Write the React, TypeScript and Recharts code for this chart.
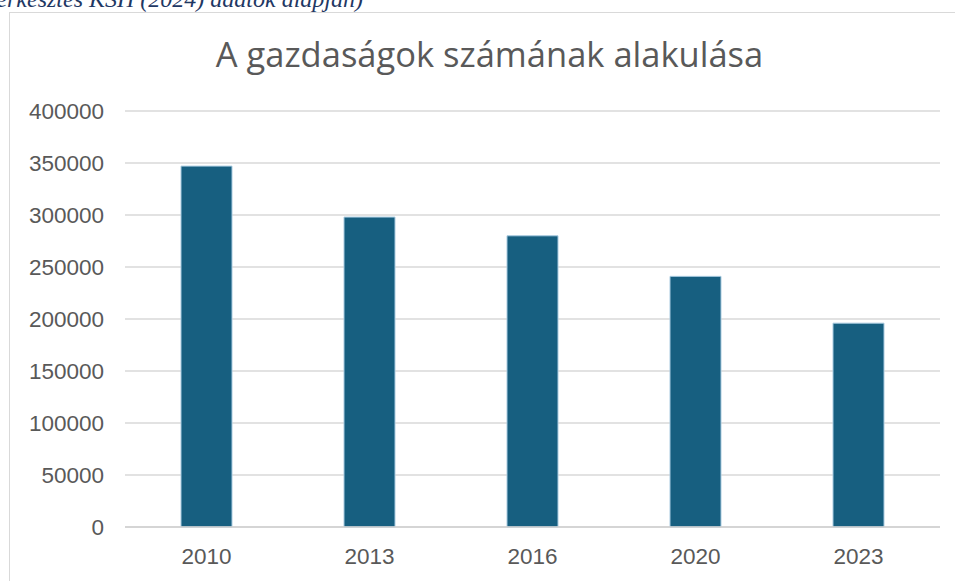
import { Bar, BarChart, CartesianGrid, XAxis, YAxis } from "recharts";

const years = ["2010", "2013", "2016", "2020", "2023"];
const farms = [347000, 298000, 280000, 241000, 196000];
const yTicks = [0, 50000, 100000, 150000, 200000, 250000, 300000, 350000, 400000];

const data = years.map((year, i) => ({ year, farms: farms[i] }));

const tickStyle = { fill: "#595959", fontSize: 22.5, fontFamily: "Liberation Sans, Arial, sans-serif" };

export default function App() {
  return (
    <div style={{ position: "absolute", left: 0, top: 0, width: 955, height: 581, overflow: "hidden", background: "#fff" }}>
      <div
        style={{
          position: "absolute", right: 592, top: -13, whiteSpace: "nowrap", lineHeight: 1,
          fontFamily: "Liberation Serif, Times New Roman, serif", fontStyle: "italic", fontSize: 24, color: "#1F3864",
        }}
      >
        (Forrás: saját szerkesztés KSH (2024) adatok alapján)
      </div>
      <div style={{ position: "absolute", left: 9, top: 12, width: 960, height: 600, border: "1.5px solid #d9d9d9", boxSizing: "border-box" }} />
      <div
        style={{
          position: "absolute", left: 0, width: 979, top: 34, textAlign: "center",
          fontFamily: "Open Sans, sans-serif", fontSize: 34.5, color: "#595959", lineHeight: "40px",
        }}
      >
        A gazdaságok számának alakulása
      </div>
      <div style={{ position: "absolute", left: 0, top: 0 }}>
        <BarChart width={955} height={581} data={data} margin={{ top: 111, right: 15, left: 0, bottom: 14 }}>
          <CartesianGrid vertical={false} stroke="#d9d9d9" strokeWidth={1.5} />
          <XAxis dataKey="year" tickLine={false} axisLine={{ stroke: "#d0d0d0", strokeWidth: 1.5 }} tick={tickStyle} tickMargin={15} height={40} />
          <YAxis domain={[0, 400000]} ticks={yTicks} tickLine={false} axisLine={false} tick={tickStyle} tickMargin={15} width={125} interval={0} />
          <Bar dataKey="farms" fill="#175F80" stroke="#a9cbe0" strokeWidth={1} barSize={51} isAnimationActive={false} />
        </BarChart>
      </div>
    </div>
  );
}
